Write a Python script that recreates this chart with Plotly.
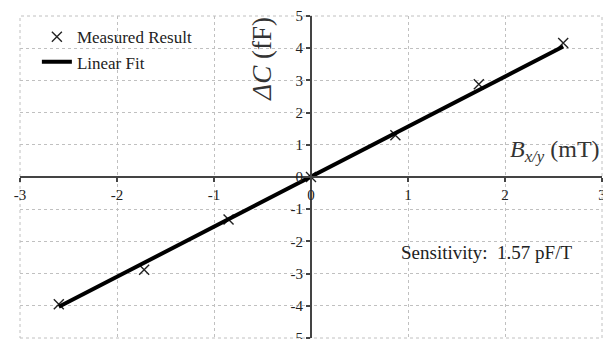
import plotly.graph_objects as go

# measured points
b_field = [-2.6, -1.72, -0.85, 0.0, 0.87, 1.73, 2.6]
delta_c = [-3.95, -2.88, -1.32, 0.0, 1.3, 2.88, 4.16]

# linear fit end points
fit_x = [-2.6, 2.6]
fit_y = [-4.03, 4.05]

x_ticks = [-3, -2, -1, 0, 1, 2, 3]
y_ticks = [-5, -4, -3, -2, -1, 0, 1, 2, 3, 4, 5]

serif = "Liberation Serif, Times New Roman, serif"

fig = go.Figure()
fig.add_trace(go.Scatter(
    x=b_field, y=delta_c, mode="markers", name="Measured Result",
    legendgroup="m",
    marker=dict(symbol="x-thin", size=10, line=dict(width=1.4, color="#222")),
))
fig.add_trace(go.Scatter(
    x=fit_x, y=fit_y, mode="lines", name="Linear Fit", legendgroup="f",
    line=dict(color="black", width=4),
))

axis_common = dict(
    showgrid=True, gridcolor="#c0c0c0", griddash="dot", gridwidth=1,
    zeroline=False, showline=True, linecolor="#444", linewidth=2,
    ticks="outside", ticklen=4, tickcolor="#444", tickwidth=1.5,
    tickfont=dict(family=serif, size=15, color="#222"),
    anchor="free", position=0.5, automargin=False,
    ticklabeloverflow="allow",
)
fig.update_xaxes(range=[-3, 3], tickvals=x_ticks,
                 ticktext=[str(v) for v in x_ticks], **axis_common)
fig.update_yaxes(range=[-5, 5], tickvals=y_ticks,
                 ticktext=[str(v) for v in y_ticks], **axis_common)

fig.add_annotation(
    x=-0.5, y=3.66, xref="x", yref="y", text="<i>ΔC</i> (fF)", textangle=-90,
    showarrow=False, font=dict(family=serif, size=27, color="#333"),
)
fig.add_annotation(
    x=2.52, y=0.82, xref="x", yref="y",
    text="<i>B<sub>x/y</sub></i> (mT)",
    showarrow=False, font=dict(family=serif, size=24, color="#333"),
)
fig.add_annotation(
    x=1.81, y=-2.36, xref="x", yref="y", text="Sensitivity:  1.57 pF/T",
    showarrow=False, font=dict(family=serif, size=19, color="#222"),
)

# dotted frame around the plot area
fig.add_shape(type="rect", xref="paper", yref="paper", x0=0, y0=0, x1=1, y1=1,
              line=dict(color="#c0c0c0", width=1, dash="dot"), layer="below")

# page body adds 8px offset, so margins are shifted to compensate
fig.update_layout(
    width=611, height=331,
    margin=dict(l=12, r=17, t=8, b=1),
    plot_bgcolor="white", paper_bgcolor="white",
    font=dict(family=serif, color="#222"),
    legend=dict(x=0.029, y=0.99, xanchor="left", yanchor="top",
                bgcolor="rgba(0,0,0,0)", font=dict(family=serif, size=17),
                itemwidth=30, traceorder="grouped", tracegroupgap=0),
    showlegend=True,
)

fig.write_html("out.html")
